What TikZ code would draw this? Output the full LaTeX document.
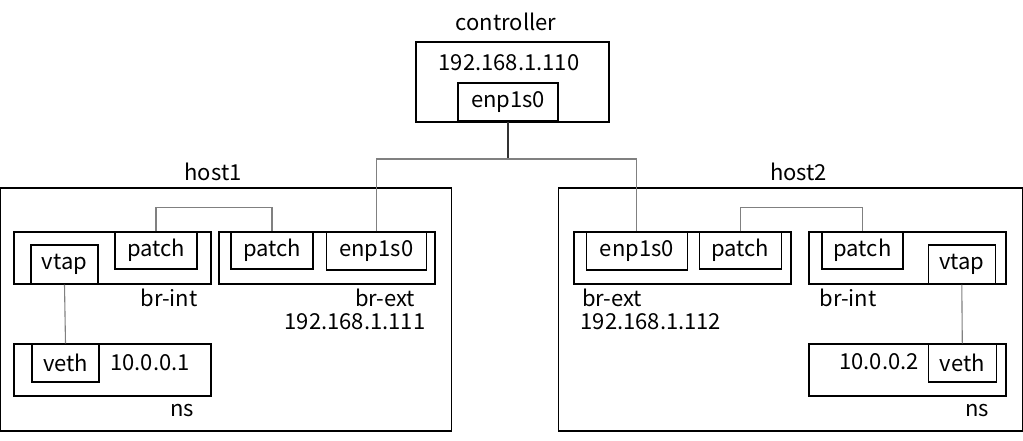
\documentclass[tikz,border=0pt]{standalone}
\usepackage{fontspec}
\setmainfont{Noto Sans CJK JP}
\begin{document}
\begin{tikzpicture}[x=1pt,y=-1pt,
  box/.style={draw=black,line width=1.1pt,inner sep=0pt,rectangle},
  lbl/.style={inner sep=0pt,font=\fontsize{22}{26}\selectfont},
  conn/.style={draw=black!50,line width=1.1pt},
  ctrlconn/.style={draw=black!80,line width=1.1pt}]
\useasboundingbox (0,0) rectangle (1023,441);
% controller
\node[lbl] (tctrl) at (506,22) {controller};
\node[box,minimum width=193pt,minimum height=80pt] (ctrl) at (512.5,82) {};
\node[lbl] (tctrlip) at (509,63) {192.168.1.110};
\node[box,minimum width=100pt,minimum height=38pt,lbl] (cenp) at (508,102) {enp1s0};
% host1
\node[lbl] (th1) at (213,172) {host1};
\node[box,minimum width=451pt,minimum height=243pt] (h1) at (226.3,309.5) {};
\node[box,minimum width=197pt,minimum height=52pt] (brint1) at (112.5,258) {};
\node[box,minimum width=82pt,minimum height=37pt,lbl] (p1a) at (156,250.5) {patch};
\node[box,minimum width=67pt,minimum height=39pt,lbl] (vtap1) at (64.5,264.5) {vtap};
\node[box,minimum width=216pt,minimum height=52pt] (brext1) at (327,258) {};
\node[box,minimum width=82pt,minimum height=37pt,lbl] (p1b) at (272,250.5) {patch};
\node[box,minimum width=100pt,minimum height=38pt,lbl] (enp1) at (376.3,251) {enp1s0};
\node[box,minimum width=197pt,minimum height=52pt] (ns1) at (112.5,370) {};
\node[box,minimum width=67pt,minimum height=38pt,lbl] (veth1) at (65.5,363) {veth};
\node[lbl] (tip1) at (150,363) {10.0.0.1};
\node[lbl] (tns1) at (182,411) {ns};
\node[lbl] (tbrint1) at (169,298) {br-int};
\node[lbl] (tbrext1) at (385,298) {br-ext};
\node[lbl] (tbrip1) at (355,322) {192.168.1.111};
% host2
\node[lbl] (th2) at (798.5,172) {host2};
\node[box,minimum width=464pt,minimum height=243pt] (h2) at (790.3,309.5) {};
\node[box,minimum width=217pt,minimum height=52pt] (brext2) at (682.5,258) {};
\node[box,minimum width=101pt,minimum height=38pt,lbl] (enp2) at (636.8,251) {enp1s0};
\node[box,minimum width=82pt,minimum height=37pt,lbl] (p2a) at (740.3,250.5) {patch};
\node[box,minimum width=197pt,minimum height=52pt] (brint2) at (907.5,258) {};
\node[box,minimum width=81pt,minimum height=37pt,lbl] (p2b) at (862.5,250.5) {patch};
\node[box,minimum width=67pt,minimum height=39pt,lbl] (vtap2) at (961.8,264.5) {vtap};
\node[box,minimum width=197pt,minimum height=52pt] (ns2) at (907.5,370) {};
\node[box,minimum width=68pt,minimum height=38pt,lbl] (veth2) at (962.3,363) {veth};
\node[lbl] (tip2) at (879,362) {10.0.0.2};
\node[lbl] (tns2) at (977,411) {ns};
\node[lbl,anchor=west] (tbrext2) at (582,298) {br-ext};
\node[lbl,anchor=west] (tbrip2) at (580.5,322) {192.168.1.112};
\node[lbl] (tbrint2) at (848,298) {br-int};
% connectors
\coordinate (j) at (508,159);
\draw[ctrlconn] (cenp.south) -- (j);
\draw[conn] (enp1.north) -- (enp1.north |- j) -- (enp2.north |- j) -- (enp2.north);
\draw[conn] (p1a.north) -- ++(0,-24) -| (p1b.north);
\draw[conn] (p2a.north) -- ++(0,-24) -| (p2b.north);
\draw[conn] (vtap1.south) -- (veth1.north);
\draw[conn] (vtap2.south) -- (veth2.north);
\end{tikzpicture}
\end{document}
